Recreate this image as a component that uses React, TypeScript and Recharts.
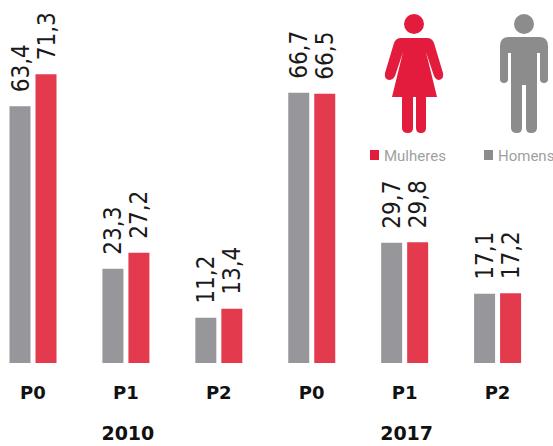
import React from "react";
import { BarChart, Bar, XAxis, YAxis, LabelList } from "recharts";

const categories = ["P0", "P1", "P2", "P0", "P1", "P2"];
const years = ["2010", "2010", "2010", "2017", "2017", "2017"];
const homens = [63.4, 23.3, 11.2, 66.7, 29.7, 17.1];
const mulheres = [71.3, 27.2, 13.4, 66.5, 29.8, 17.2];

const rows = categories.map((c, i) => ({ key: i, cat: c, year: years[i], homens: homens[i], mulheres: mulheres[i] }));

const RED_BAR = "#e33a4e";
const GRAY_BAR = "#97979b";
const RED = "#e31c3d";
const GRAY = "#8c8c8c";
const OFFSET_X = -20;

const ValueLabel = (props: any) => {
  const { x, y, width, value } = props;
  const cx = x + width / 2;
  const by = y - 14;
  return (
    <text
      transform={`translate(${cx + 8.5},${by}) rotate(-90) scale(0.9,1)`}
      fontFamily="'DejaVu Sans'"
      fontSize={24}
      fill="#1a1a1a"
    >
      {String(value).replace(".", ",")}
    </text>
  );
};

const CatTick = (props: any) => {
  const { x, y, payload } = props;
  return (
    <text x={x} y={y} textAnchor="middle" fontFamily="'DejaVu Sans'" fontWeight="bold" fontSize={18} fill="#111">
      {categories[payload.index]}
    </text>
  );
};

const YearTick = (props: any) => {
  const { x, y, payload } = props;
  if (payload.index !== 1 && payload.index !== 4) return null;
  return (
    <text x={x + 2} y={y} textAnchor="middle" fontFamily="'DejaVu Sans'" fontWeight="bold" fontSize={19} fill="#111">
      {years[payload.index]}
    </text>
  );
};

const Icons = () => (
  <g transform={`translate(${-OFFSET_X},0)`}>
    <circle cx={414} cy={24} r={10} fill={RED} />
    <path
      d="M401 38 H427 Q432 38 434 43 L443 73 Q444 79 439 80 Q436 80 434 76 L426 52 L437 97 H426 V128 Q426 133 421 133 Q416 133 416 128 V97 H413 V128 Q413 133 408 133 Q402 133 402 128 V97 H392 L403 52 L395 76 Q393 80 389 80 Q384 79 385 73 L394 43 Q396 38 401 38 Z"
      fill={RED}
    />
    <circle cx={524} cy={24} r={10} fill={GRAY} />
    <path
      d="M509 37 H539 Q548 37 548 46 V79 Q548 83 544 83 Q540 83 540 79 V53 H537 V128 Q537 133 531 133 Q526 133 526 128 V85 H522 V128 Q522 133 517 133 Q511 133 511 128 V53 H508 V79 Q508 83 504 83 Q500 83 500 79 V46 Q500 37 509 37 Z"
      fill={GRAY}
    />
    <rect x={370} y={150} width={9} height={10} fill={RED} />
    <text x={384} y={160.5} fontFamily="Roboto" fontSize={15} fill="#9f9f9f">Mulheres</text>
    <rect x={484} y={150} width={9} height={10} fill={GRAY} />
    <text x={498} y={160.5} fontFamily="Roboto" fontSize={15} fill="#9f9f9f">Homens</text>
  </g>
);

export default function App() {
  return (
    <div style={{ position: "fixed", left: 0, top: 0, width: 553, height: 446, overflow: "hidden", background: "#fff" }}>
      <div style={{ position: "absolute", left: OFFSET_X, top: 0 }}>
        <BarChart
          width={593}
          height={446}
          data={rows}
          barSize={21}
          barGap={5}
          margin={{ top: 39, right: 29, bottom: 0, left: 6.5 }}
        >
          <YAxis hide domain={[0, 80]} />
          <XAxis
            dataKey="key"
            xAxisId={0}
            axisLine={false}
            tickLine={false}
            interval={0}
            height={44}
            tick={<CatTick />}
            tickMargin={30}
          />
          <XAxis
            dataKey="year"
            xAxisId={1}
            allowDuplicatedCategory
            axisLine={false}
            tickLine={false}
            interval={0}
            height={39}
            tick={<YearTick />}
            tickMargin={27}
          />
          <Bar dataKey="homens" name="Homens" fill={GRAY_BAR} isAnimationActive={false}>
            <LabelList dataKey="homens" content={<ValueLabel />} />
          </Bar>
          <Bar dataKey="mulheres" name="Mulheres" fill={RED_BAR} isAnimationActive={false}>
            <LabelList dataKey="mulheres" content={<ValueLabel />} />
          </Bar>
          <Icons />
        </BarChart>
      </div>
    </div>
  );
}
